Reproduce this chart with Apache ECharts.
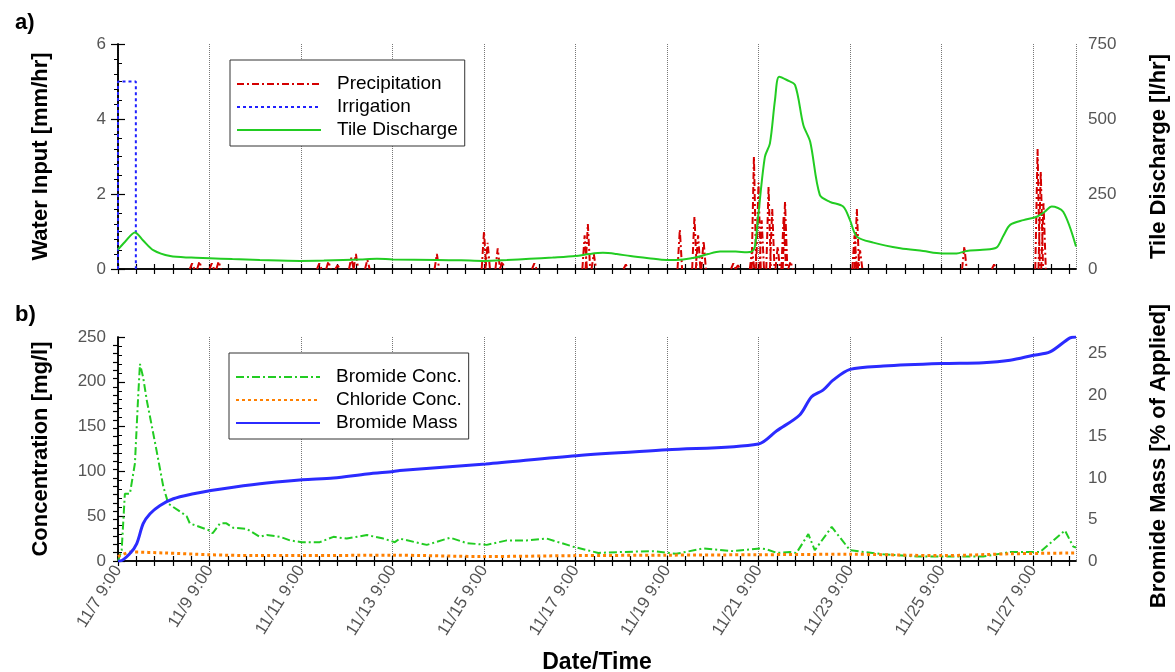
<!DOCTYPE html>
<html>
<head>
<meta charset="utf-8">
<script src="https://cdn.jsdelivr.net/npm/echarts@6/dist/echarts.min.js"></script>
<style>
  html, body { margin: 0; padding: 0; background: #fff; }
  #chart { width: 1175px; height: 672px; }
</style>
</head>
<body>
<div id="chart"></div>
<script>
// Time is counted in days from 11/7 9:00.
const xMax = 20.94;
const xTickLabels = ['11/7 9:00', '11/9 9:00', '11/11 9:00', '11/13 9:00', '11/15 9:00', '11/17 9:00',
  '11/19 9:00', '11/21 9:00', '11/23 9:00', '11/25 9:00', '11/27 9:00'];

// a) Water input
const irrigationDays = [0, 0, 0.39, 0.39];
const irrigationRate = [0, 5, 5, 0];          // mm/hr

const precipDays = [1.62, 1.78, 2.05, 2.2, 4.4, 4.6, 4.8, 5.1, 5.2, 5.45, 6.97, 8.0, 8.08, 8.3, 8.4, 9.1,
  10.2, 10.27, 10.4, 11.1, 12.28, 12.6, 12.68, 12.8, 13.45, 13.55, 13.86, 13.9, 14.0, 14.07, 14.22, 14.3,
  14.42, 14.55, 14.58, 14.7, 16.1, 16.15, 16.22, 18.5, 19.15, 20.1, 20.17, 20.23];
const precipRate = [0.15, 0.2, 0.15, 0.2, 0.15, 0.2, 0.1, 0.3, 0.4, 0.25, 0.4, 1.0, 0.7, 0.55, 0.2, 0.15,
  0.9, 1.2, 0.4, 0.12, 1.05, 1.4, 0.9, 0.75, 0.15, 0.1, 0.5, 3.0, 2.3, 1.3, 2.2, 1.6,
  0.6, 1.4, 1.8, 0.2, 0.9, 1.6, 0.5, 0.6, 0.12, 3.2, 2.6, 1.75];   // mm/hr

const tileDays = [0, 0.15, 0.37, 0.55, 0.77, 1.14, 1.6, 2.0, 2.5, 3.1, 3.98, 4.5, 4.92, 5.3, 5.66, 6.0, 6.97,
  7.5, 7.98, 8.5, 9.0, 9.5, 10.0, 10.3, 10.6, 10.9, 11.2, 11.6, 12.0, 12.35, 12.65, 12.9, 13.16, 13.5, 13.75,
  13.85, 13.92, 14.0, 14.14, 14.25, 14.36, 14.45, 14.62, 14.8, 14.98, 15.13, 15.34, 15.56, 15.85, 16.0, 16.15,
  16.51, 17.1, 17.6, 18.0, 18.33, 18.55, 18.9, 19.2, 19.35, 19.5, 19.79, 20.08, 20.25, 20.41, 20.66, 20.94];
const tileFlow = [65, 90, 122, 95, 63, 43, 38, 36, 33, 30, 27, 28, 30, 32, 34, 32, 30,
  29, 27, 30, 34, 38, 43, 50, 54, 50, 43, 36, 30, 32, 39, 50, 58, 58, 56,
  58, 74, 186, 374, 419, 563, 641, 630, 613, 480, 424, 247, 224, 208, 163, 108,
  88, 69, 60, 52, 52, 60, 64, 71, 110, 147, 163, 174, 190, 208, 191, 75];   // l/hr

// b) Concentrations and recovered mass
const bromideDays = [0, 0.08, 0.15, 0.26, 0.37, 0.44, 0.48, 0.55, 0.63, 0.73, 0.84, 0.99, 1.1, 1.36, 1.5, 1.57,
  1.79, 2.0, 2.07, 2.23, 2.37, 2.52, 2.81, 3.1, 3.25, 3.54, 3.76, 4.01, 4.41, 4.71, 5.0, 5.44, 5.8, 6.05,
  6.16, 6.75, 7.26, 7.62, 8.06, 8.5, 8.93, 9.37, 9.95, 10.5, 10.97, 11.7, 12.2, 12.79, 13.45, 14.03, 14.18,
  14.4, 14.69, 14.83, 15.09, 15.23, 15.6, 16.0, 16.73, 17.46, 18.19, 18.91, 19.5, 20.15, 20.7, 20.88, 20.94];
const bromideConc = [0, 12, 75, 75, 109, 183, 220, 205, 179, 153, 124, 83, 64, 55, 50, 42,
  38, 34, 31, 42, 42, 37, 36, 27, 29, 27, 23, 21, 21, 27, 25, 29, 25, 21,
  25, 18, 26, 20, 18, 23, 23, 25, 16, 9, 10, 11, 8, 14, 11, 14, 13,
  9, 10, 9, 30, 12, 38, 12, 7.5, 5, 5, 5, 10, 10, 34, 16, 15];   // mg/l

const chlorideDays = [0, 0.3, 1, 2, 3, 4, 6, 8, 10, 12, 14, 16, 18, 19.5, 20.94];
const chlorideConc = [5, 10, 9, 7, 6, 6, 6.5, 5, 6, 6.5, 7, 7.5, 6, 8, 9];   // mg/l

const massDays = [0, 0.04, 0.26, 0.41, 0.55, 0.7, 0.92, 1.21, 1.65, 2.03, 2.52, 3.25, 4.03, 4.71, 5.44, 6.02,
  6.16, 8.04, 10.02, 12.0, 14.0, 14.4, 14.9, 15.16, 15.41, 15.63, 16.0, 16.73, 18.0, 18.91, 19.5, 20.01,
  20.37, 20.81, 20.94];
const bromideMass = [0, 0, 0.9, 2.1, 4.5, 5.7, 6.7, 7.5, 8.1, 8.5, 8.9, 9.4, 9.8, 10.0, 10.5, 10.8,
  10.9, 11.7, 12.7, 13.4, 14.1, 15.7, 17.6, 19.8, 20.6, 21.8, 23.1, 23.5, 23.8, 23.9, 24.2, 24.8,
  25.2, 26.9, 27];   // % of applied

const zip = (xs, ys) => xs.map((x, i) => [x, ys[i]]);

// Each rainfall burst is drawn as a narrow spike rising from zero.
function spikes(days, rates, halfWidth) {
  const out = [];
  days.forEach((d, i) => {
    out.push([d - halfWidth, 0], [d, rates[i]], [d + halfWidth, 0], null);
  });
  return out;
}

const FONT = "'Liberation Sans', Arial, sans-serif";
const tickLabelStyle = { color: '#555', fontSize: 17, fontFamily: FONT };
const nameStyle = { color: '#000', fontSize: 22, fontWeight: 'bold', fontFamily: FONT };
const axisLine = { show: true, lineStyle: { color: '#000', width: 1.5 } };

const minorX = [];
for (let i = 0; i * 0.4 <= xMax; i++) minorX.push(+(i * 0.4).toFixed(2));
const majorX = xTickLabels.map((_, i) => i * 2);

// Framing axes: carry the tick marks (and, for the lower panel, the date labels).
function xAxisDef(gridIndex, position, withLabels) {
  return {
    type: 'value', gridIndex, position, min: 0, max: xMax, interval: 2,
    axisLine,
    axisTick: { show: true, inside: true, length: 5, customValues: minorX, lineStyle: { color: '#000', width: 1.2 } },
    axisLabel: withLabels ? {
      show: true, ...tickLabelStyle, rotate: 58, margin: 6, customValues: majorX,
      formatter: v => xTickLabels[Math.round(v / 2)]
    } : { show: false },
    splitLine: { show: false },
    name: withLabels ? 'Date/Time' : '',
    nameLocation: 'middle', nameGap: 90,
    nameTextStyle: { ...nameStyle, fontSize: 23 }
  };
}

// Axis that only draws the dotted vertical lines at each labelled date.
function gridLineAxis(gridIndex) {
  return {
    type: 'value', gridIndex, position: 'top', min: 0, max: xMax, interval: 2,
    axisLine: { show: false }, axisTick: { show: false }, axisLabel: { show: false },
    splitLine: { show: true, lineStyle: { color: '#777', type: 'dotted', width: 1 } }
  };
}

function yAxisDef(gridIndex, position, min, max, interval, minorSplit, name, gap, extra) {
  return Object.assign({
    type: 'value', gridIndex, position, min, max, interval,
    axisLine,
    axisTick: { show: true, inside: true, length: 7, lineStyle: { color: '#000', width: 1.2 } },
    minorTick: { show: true, splitNumber: minorSplit, length: 4, lineStyle: { color: '#000', width: 1 } },
    axisLabel: { ...tickLabelStyle, margin: 12 },
    splitLine: { show: false },
    name, nameLocation: 'middle', nameRotate: 90, nameGap: gap,
    nameTextStyle: nameStyle
  }, extra || {});
}

function legendDef(names, left, top) {
  return {
    data: names, orient: 'vertical', left, top, selectedMode: false,
    itemWidth: 84, itemHeight: 14, itemGap: 3,
    itemStyle: { opacity: 0, borderWidth: 0 },
    textStyle: { fontSize: 19, lineHeight: 20, color: '#000', fontFamily: FONT, padding: [0, 0, 0, 11] },
    borderColor: '#333', borderWidth: 1, padding: [14, 7, 6, 6], backgroundColor: '#fff'
  };
}

const chart = echarts.init(document.getElementById('chart'), null, { renderer: 'canvas' });

chart.setOption({
  backgroundColor: '#fff',
  animation: false,
  title: [
    { text: 'a)', left: 10, top: 7, textStyle: { fontSize: 22, fontWeight: 'bold', fontFamily: FONT, color: '#000' } },
    { text: 'b)', left: 10, top: 299, textStyle: { fontSize: 22, fontWeight: 'bold', fontFamily: FONT, color: '#000' } }
  ],
  grid: [
    { left: 118, right: 99, top: 44, height: 225, containLabel: false, outerBoundsMode: 'none' },
    { left: 118, right: 99, top: 337, height: 224, containLabel: false, outerBoundsMode: 'none' }
  ],
  legend: [
    legendDef(['Precipitation', 'Irrigation', 'Tile Discharge'], 230, 60),
    legendDef(['Bromide Conc.', 'Chloride Conc.', 'Bromide Mass'], 229, 353)
  ],
  xAxis: [
    xAxisDef(0, 'bottom', false),
    xAxisDef(0, 'top', false),
    gridLineAxis(0),
    xAxisDef(1, 'bottom', true),
    xAxisDef(1, 'top', false),
    gridLineAxis(1)
  ],
  yAxis: [
    yAxisDef(0, 'left', 0, 6, 2, 4, 'Water Input [mm/hr]', 66),
    yAxisDef(0, 'right', 0, 750, 250, 5, 'Tile Discharge [l/hr]', 72),
    yAxisDef(1, 'left', 0, 250, 50, 5, 'Concentration [mg/l]', 66),
    yAxisDef(1, 'right', 0, 27, 5, 5, 'Bromide Mass [% of Applied]', 72, {
      axisTick: {
        show: true, inside: true, length: 5,
        customValues: Array.from({ length: 28 }, (_, i) => i),
        lineStyle: { color: '#000', width: 1.2 }
      },
      minorTick: { show: false },
      axisLabel: { ...tickLabelStyle, margin: 12, showMaxLabel: false },
      nameTextStyle: { ...nameStyle, padding: [0, 14, 0, 0] }
    })
  ],
  series: [
    {
      name: 'Precipitation', type: 'line', xAxisIndex: 0, yAxisIndex: 0,
      data: spikes(precipDays, precipRate, 0.05), connectNulls: false,
      showSymbol: false, symbol: 'none', z: 3,
      lineStyle: { color: '#d40000', width: 2, type: [7, 3, 2, 3] },
      itemStyle: { color: '#d40000' }
    },
    {
      name: 'Irrigation', type: 'line', xAxisIndex: 0, yAxisIndex: 0,
      data: zip(irrigationDays, irrigationRate),
      showSymbol: false, symbol: 'none', z: 3,
      lineStyle: { color: '#2020ff', width: 2, type: [3, 3] },
      itemStyle: { color: '#2020ff' }
    },
    {
      name: 'Tile Discharge', type: 'line', xAxisIndex: 0, yAxisIndex: 1,
      data: zip(tileDays, tileFlow), smooth: 0.3,
      showSymbol: false, symbol: 'none', z: 4,
      lineStyle: { color: '#22cc22', width: 2 },
      itemStyle: { color: '#22cc22' }
    },
    {
      name: 'Bromide Conc.', type: 'line', xAxisIndex: 3, yAxisIndex: 2,
      data: zip(bromideDays, bromideConc),
      showSymbol: false, symbol: 'none', z: 3,
      lineStyle: { color: '#22cc22', width: 2, type: [8, 3, 2, 3] },
      itemStyle: { color: '#22cc22' }
    },
    {
      name: 'Chloride Conc.', type: 'line', xAxisIndex: 3, yAxisIndex: 2,
      data: zip(chlorideDays, chlorideConc), smooth: 0.3,
      showSymbol: false, symbol: 'none', z: 3,
      lineStyle: { color: '#ff8000', width: 3, type: [3, 3] },
      itemStyle: { color: '#ff8000' }
    },
    {
      name: 'Bromide Mass', type: 'line', xAxisIndex: 3, yAxisIndex: 3,
      data: zip(massDays, bromideMass), smooth: 0.3,
      showSymbol: false, symbol: 'none', z: 4,
      lineStyle: { color: '#2b2bff', width: 3 },
      itemStyle: { color: '#2b2bff' }
    }
  ]
});
</script>
</body>
</html>
